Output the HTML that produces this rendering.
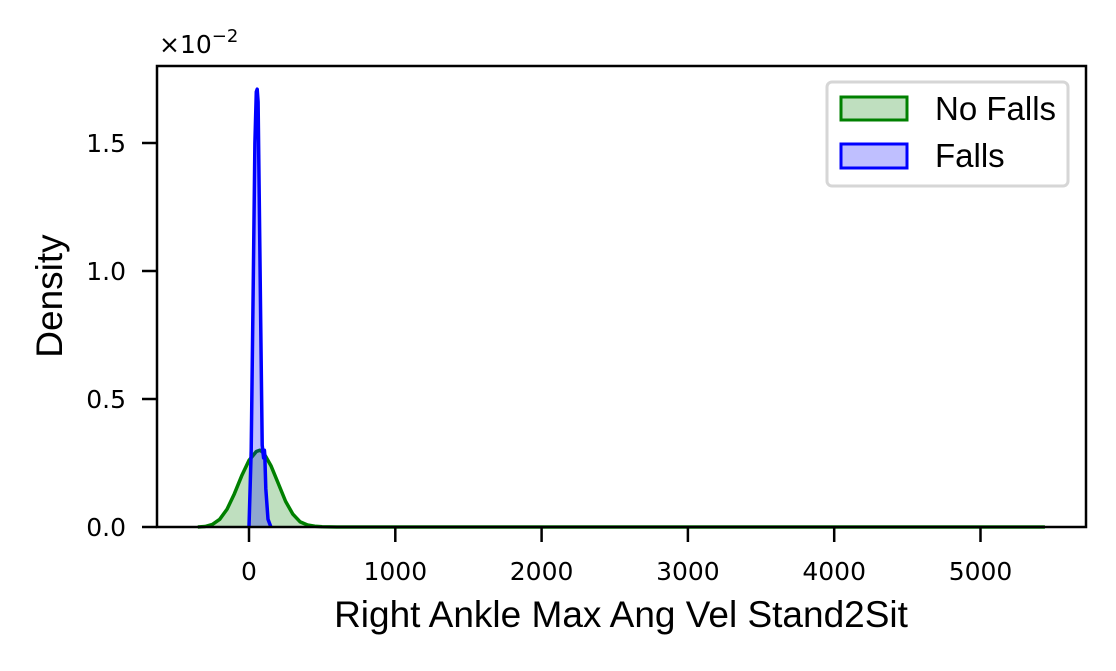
<!DOCTYPE html>
<html><head><meta charset="utf-8"><style>
body{margin:0;background:#fff;font-family:"Liberation Sans",Arial,sans-serif;}
</style></head><body>
<svg width="1116" height="666" xmlns="http://www.w3.org/2000/svg" font-family="Liberation Sans, Arial, sans-serif">
<g id="plot"></g>
<rect x="157" y="66" width="929" height="461" fill="none" stroke="#000" stroke-width="2.5"/>
<g id="xt"></g>
<g id="yt"></g>
<text x="159" y="53" font-size="25" font-family="DejaVu Sans, sans-serif">×10<tspan dy="-11" font-size="18">−2</tspan></text>
<text x="621" y="627" font-size="37" text-anchor="middle">Right Ankle Max Ang Vel Stand2Sit</text>
<text x="62" y="296" font-size="37" text-anchor="middle" transform="rotate(-90 62 296)">Density</text>
<g>
<rect x="827" y="82" width="241" height="104" rx="5" fill="#fff" fill-opacity="0.8" stroke="#d6d6d6" stroke-width="3"/>
<rect x="841" y="97" width="66" height="23" fill="rgba(0,128,0,0.25)" stroke="green" stroke-width="3"/>
<text x="935" y="120" font-size="33">No Falls</text>
<rect x="841" y="144" width="66" height="24" fill="rgba(0,0,255,0.25)" stroke="blue" stroke-width="3"/>
<text x="935" y="167" font-size="33">Falls</text>
</g>
</svg>
<script>
const greenX=[-350,-300,-250,-200,-150,-100,-50,0,50,75,100,150,200,250,300,350,400,450,500,600,5440];
const greenY=[0,0.002,0.01,0.03,0.07,0.13,0.2,0.26,0.295,0.3,0.29,0.24,0.17,0.1,0.05,0.02,0.008,0.003,0.001,0,0];
const blueX=[0,15,30,40,50,56,62,70,80,90,100,105,108,115,130,150];
const blueY=[0,0.3,1.0,1.5,1.7,1.71,1.66,1.3,0.8,0.32,0.27,0.3,0.28,0.15,0.03,0];
const xTicks=[0,1000,2000,3000,4000,5000];
const yTicks=[0,0.5,1.0,1.5];
const yTickLabels=["0.0","0.5","1.0","1.5"];
const sx=v=>249+v*0.1463, sy=v=>527-v*256;
const NS="http://www.w3.org/2000/svg";
const plot=document.getElementById('plot');
function area(xs,ys,fill,stroke,name){
  let d=xs.map((x,i)=>(i?'L':'M')+sx(x).toFixed(1)+','+sy(ys[i]).toFixed(1)).join('');
  const a=document.createElementNS(NS,'path');
  a.setAttribute('d',d+'L'+sx(xs[xs.length-1])+','+sy(0)+'L'+sx(xs[0])+','+sy(0)+'Z');
  a.setAttribute('fill',fill);
  
  
  plot.appendChild(a);
  const l=document.createElementNS(NS,'path');
  l.setAttribute('d',d);l.setAttribute('fill','none');l.setAttribute('stroke',stroke);l.setAttribute('stroke-width','3.5');l.setAttribute('stroke-linejoin','round');
  
  
  plot.appendChild(l);
}
area(greenX,greenY,'rgba(0,128,0,0.25)','green','no-falls-kde');
area(blueX,blueY,'rgba(0,0,255,0.25)','blue','falls-kde');
const xt=document.getElementById('xt');
xTicks.forEach(v=>{
  const g=document.createElementNS(NS,'g');
  
  
  g.innerHTML=`<line x1="${sx(v)}" x2="${sx(v)}" y1="527" y2="542" stroke="#000" stroke-width="2.5"/><text x="${sx(v)}" y="580" font-size="25" font-family="DejaVu Sans, sans-serif" text-anchor="middle">${v}</text>`;
  xt.appendChild(g);
});
const yt=document.getElementById('yt');
yTicks.forEach((v,i)=>{
  const g=document.createElementNS(NS,'g');
  
  
  g.innerHTML=`<line x1="142" x2="157" y1="${sy(v)}" y2="${sy(v)}" stroke="#000" stroke-width="2.5"/><text x="126" y="${sy(v)+9}" font-size="25" font-family="DejaVu Sans, sans-serif" text-anchor="end">${yTickLabels[i]}</text>`;
  yt.appendChild(g);
});
</script>
</body></html>
